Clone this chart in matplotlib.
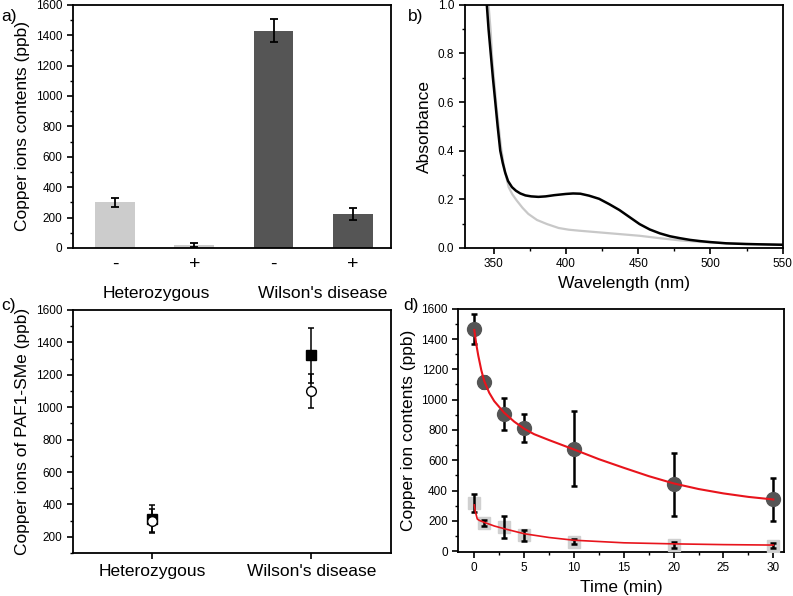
import matplotlib
matplotlib.use("Agg")
import matplotlib.pyplot as plt
from matplotlib.ticker import MultipleLocator, FormatStrFormatter

plt.rcParams['font.family'] = ['Liberation Sans', 'DejaVu Sans']

# a) bar data
bar_labels = ['-', '+', '-', '+']
bar_values = [300, 20, 1430, 225]
bar_errors = [30, 15, 75, 40]
bar_colors = ['#cccccc', '#cccccc', '#555555', '#555555']
groups = ['Heterozygous', "Wilson's disease"]

# b) absorbance spectra
wl_black = [344, 345.3, 346.5, 348, 349.5, 351, 352.8, 354.6, 356.3, 358, 360, 362.7, 365.5,
            368.5, 372, 376, 381, 386, 392, 400, 405, 410, 416, 423, 430, 437, 444, 451,
            458, 465, 472, 479, 486, 493, 500, 511, 525, 550]
abs_black = [1.08, 1.0, 0.9, 0.8, 0.7, 0.61, 0.5, 0.40, 0.35, 0.31, 0.275, 0.25, 0.235,
             0.224, 0.216, 0.212, 0.21, 0.212, 0.217, 0.222, 0.224, 0.223, 0.215, 0.202,
             0.18, 0.156, 0.127, 0.098, 0.076, 0.06, 0.048, 0.04, 0.033, 0.028, 0.024,
             0.019, 0.016, 0.013]
wl_grey = [345.5, 346.5, 348, 349, 350.5, 352, 353.5, 355, 356.5, 358, 359.2, 360.4, 363,
           366, 370, 374, 380, 387, 395, 402, 409, 423, 437, 451, 465, 479, 493, 511, 530, 550]
abs_grey = [1.08, 1.0, 0.89, 0.78, 0.68, 0.58, 0.5, 0.42, 0.36, 0.31, 0.28, 0.25, 0.22,
            0.195, 0.165, 0.14, 0.115, 0.098, 0.082, 0.075, 0.071, 0.064, 0.057, 0.05,
            0.04, 0.031, 0.025, 0.019, 0.016, 0.013]

# c) PAF1-SMe
c_sq = [310, 1320]
c_sq_err = [85, 170]
c_circ = [300, 1100]
c_circ_err = [70, 105]

# d) kinetics
t = [0, 1, 3, 5, 10, 20, 30]
wd_vals = [1468, 1117, 907, 812, 675, 440, 341]
wd_err = [98, 42, 105, 90, 248, 207, 140]
het_vals = [318, 187, 160, 104, 62, 40, 37]
het_err = [57, 20, 75, 37, 18, 18, 18]
fit_t_wd = [0, 0.2, 0.4, 0.7, 1, 1.5, 2, 3, 4, 5, 6, 7.5, 10, 12.5, 15, 17.5, 20, 22.5, 25, 27.5, 30]
fit_wd = [1460, 1365, 1290, 1195, 1122, 1045, 990, 913, 855, 808, 772, 733, 671, 607, 550,
          495, 447, 410, 381, 358, 341]
fit_t_het = [0, 0.1, 0.3, 0.5, 1, 2, 3, 5, 7.5, 10, 15, 20, 25, 30]
fit_het = [305, 262, 212, 203, 190, 166, 148, 115, 90, 72, 55, 48, 43, 40]

fig = plt.figure(figsize=(7.93, 5.96), dpi=100)
ax_a = fig.add_axes([0.092, 0.584, 0.401, 0.408])
ax_b = fig.add_axes([0.586, 0.584, 0.401, 0.408])
ax_c = fig.add_axes([0.092, 0.072, 0.401, 0.408])
ax_d = fig.add_axes([0.578, 0.074, 0.411, 0.408])

LBL = 12.5
TCK = 8.5

for ax in (ax_a, ax_b, ax_c, ax_d):
    for s in ax.spines.values():
        s.set_linewidth(1.3)
    ax.tick_params(axis='both', which='major', direction='out', length=4, width=1.2,
                   labelsize=TCK, top=False, right=False)
    ax.tick_params(axis='both', which='minor', direction='out', length=2, width=1.0,
                   top=False, right=False)

# a)
pos = [1, 2, 3, 4]
ax_a.bar(pos, bar_values, width=0.5, color=bar_colors, zorder=2)
ax_a.errorbar(pos, bar_values, yerr=bar_errors, fmt='none', ecolor='black',
              elinewidth=1.3, capsize=3, capthick=1.3, zorder=3)
ax_a.set_xlim(0.47, 4.48)
ax_a.set_ylim(0, 1600)
ax_a.yaxis.set_major_locator(MultipleLocator(200))
ax_a.yaxis.set_minor_locator(MultipleLocator(100))
ax_a.set_xticks(pos)
ax_a.set_xticklabels(bar_labels, fontsize=14)
ax_a.tick_params(axis='x', length=0, pad=6)
ax_a.text(1.52, -0.155, groups[0], transform=ax_a.get_xaxis_transform(),
          ha='center', va='top', fontsize=LBL)
ax_a.text(3.62, -0.155, groups[1], transform=ax_a.get_xaxis_transform(),
          ha='center', va='top', fontsize=LBL)
ax_a.set_ylabel('Copper ions contents (ppb)', fontsize=LBL)

# b)
ax_b.plot(wl_grey, abs_grey, color='#c8c8c8', lw=1.6)
ax_b.plot(wl_black, abs_black, color='black', lw=1.8)
ax_b.set_xlim(330, 550)
ax_b.set_ylim(0, 1.0)
ax_b.xaxis.set_major_locator(MultipleLocator(50))
ax_b.xaxis.set_minor_locator(MultipleLocator(25))
ax_b.yaxis.set_major_locator(MultipleLocator(0.2))
ax_b.yaxis.set_minor_locator(MultipleLocator(0.1))
ax_b.yaxis.set_major_formatter(FormatStrFormatter('%.1f'))
ax_b.set_xlabel('Wavelength (nm)', fontsize=LBL)
ax_b.set_ylabel('Absorbance', fontsize=LBL)

# c)
cpos = [1, 2]
ax_c.errorbar(cpos, c_sq, yerr=c_sq_err, fmt='s', color='black', mfc='black', mec='black',
              ms=6.5, elinewidth=1.1, capsize=2.5, capthick=1.1)
ax_c.errorbar(cpos, c_circ, yerr=c_circ_err, fmt='o', color='black', mfc='white', mec='black',
              ms=7, elinewidth=1.1, capsize=2.5, capthick=1.1)
ax_c.set_xlim(0.5, 2.5)
ax_c.set_ylim(100, 1600)
ax_c.set_xticks(cpos)
ax_c.set_xticklabels(groups, fontsize=LBL)
ax_c.yaxis.set_major_locator(MultipleLocator(200))
ax_c.yaxis.set_minor_locator(MultipleLocator(100))
ax_c.set_ylabel('Copper ions of PAF1-SMe (ppb)', fontsize=LBL)

# d)
ax_d.errorbar(t, wd_vals, yerr=wd_err, fmt='none', ecolor='black', elinewidth=1.8,
              capsize=2.5, capthick=1.8, zorder=2)
ax_d.plot(t, wd_vals, 'o', color='#555555', ms=10, zorder=3)
ax_d.plot(t, het_vals, 's', color='#d0d0d0', ms=9, zorder=3)
ax_d.errorbar(t, het_vals, yerr=het_err, fmt='none', ecolor='black', elinewidth=1.8,
              capsize=2.5, capthick=1.8, zorder=3.5)
ax_d.plot(fit_t_wd, fit_wd, color='#e8141c', lw=1.5, zorder=4)
ax_d.plot(fit_t_het, fit_het, color='#e8141c', lw=1.2, zorder=4)
ax_d.set_xlim(-1.6, 31.1)
ax_d.set_ylim(-5, 1600)
ax_d.xaxis.set_major_locator(MultipleLocator(5))
ax_d.xaxis.set_minor_locator(MultipleLocator(2.5))
ax_d.yaxis.set_major_locator(MultipleLocator(200))
ax_d.yaxis.set_minor_locator(MultipleLocator(100))
ax_d.set_xlabel('Time (min)', fontsize=LBL)
ax_d.set_ylabel('Copper ion contents (ppb)', fontsize=LBL)

# panel letters
fig.text(0.002, 0.972, 'a)', fontsize=LBL, va='center')
fig.text(0.514, 0.972, 'b)', fontsize=LBL, va='center')
fig.text(0.002, 0.488, 'c)', fontsize=LBL, va='center')
fig.text(0.508, 0.488, 'd)', fontsize=LBL, va='center')

fig.savefig('out.png', dpi=100)
